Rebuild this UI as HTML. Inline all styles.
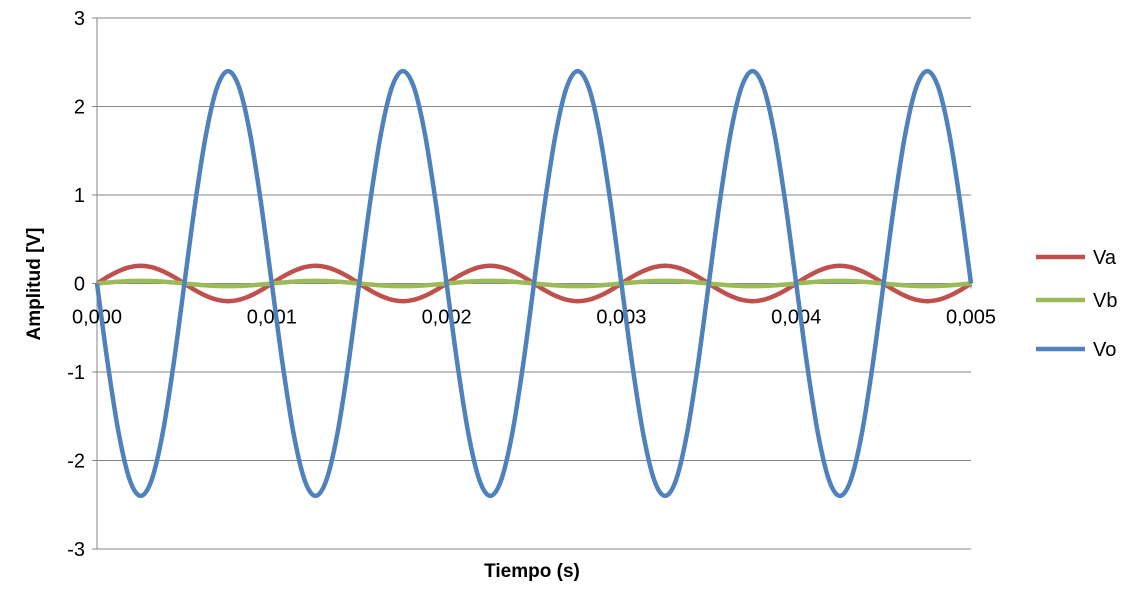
<!DOCTYPE html>
<html><head><meta charset="utf-8"><style>
body{margin:0;background:#fff;}
svg{display:block;font-family:"Liberation Sans",Calibri,sans-serif;}
</style></head><body>
<svg id="chart" width="1133" height="595"></svg>
<script>
const xTicks=[0,0.001,0.002,0.003,0.004,0.005];
const xTickLabels=["0,000","0,001","0,002","0,003","0,004","0,005"];
const yTicks=[-3,-2,-1,0,1,2,3];
const seriesNames=["Va","Vb","Vo"];
const seriesColors=["#c0504d","#9bbb59","#4f81bd"];
const times=[0,0.0000625,0.000125,0.0001875,0.00025,0.0003125,0.000375,0.0004375,0.0005,0.0005625,0.000625,0.0006875,0.00075,0.0008125,0.000875,0.0009375,
0.001,0.0010625,0.001125,0.0011875,0.00125,0.0013125,0.001375,0.0014375,0.0015,0.0015625,0.001625,0.0016875,0.00175,0.0018125,0.001875,0.0019375,
0.002,0.0020625,0.002125,0.0021875,0.00225,0.0023125,0.002375,0.0024375,0.0025,0.0025625,0.002625,0.0026875,0.00275,0.0028125,0.002875,0.0029375,
0.003,0.0030625,0.003125,0.0031875,0.00325,0.0033125,0.003375,0.0034375,0.0035,0.0035625,0.003625,0.0036875,0.00375,0.0038125,0.003875,0.0039375,
0.004,0.0040625,0.004125,0.0041875,0.00425,0.0043125,0.004375,0.0044375,0.0045,0.0045625,0.004625,0.0046875,0.00475,0.0048125,0.004875,0.0049375,0.005];
const va=[0,0.077,0.141,0.185,0.2,0.185,0.141,0.077,0,-0.077,-0.141,-0.185,-0.2,-0.185,-0.141,-0.077,
0,0.077,0.141,0.185,0.2,0.185,0.141,0.077,0,-0.077,-0.141,-0.185,-0.2,-0.185,-0.141,-0.077,
0,0.077,0.141,0.185,0.2,0.185,0.141,0.077,0,-0.077,-0.141,-0.185,-0.2,-0.185,-0.141,-0.077,
0,0.077,0.141,0.185,0.2,0.185,0.141,0.077,0,-0.077,-0.141,-0.185,-0.2,-0.185,-0.141,-0.077,
0,0.077,0.141,0.185,0.2,0.185,0.141,0.077,0,-0.077,-0.141,-0.185,-0.2,-0.185,-0.141,-0.077,0];
const vb=[0,0.011,0.021,0.028,0.03,0.028,0.021,0.011,0,-0.011,-0.021,-0.028,-0.03,-0.028,-0.021,-0.011,
0,0.011,0.021,0.028,0.03,0.028,0.021,0.011,0,-0.011,-0.021,-0.028,-0.03,-0.028,-0.021,-0.011,
0,0.011,0.021,0.028,0.03,0.028,0.021,0.011,0,-0.011,-0.021,-0.028,-0.03,-0.028,-0.021,-0.011,
0,0.011,0.021,0.028,0.03,0.028,0.021,0.011,0,-0.011,-0.021,-0.028,-0.03,-0.028,-0.021,-0.011,
0,0.011,0.021,0.028,0.03,0.028,0.021,0.011,0,-0.011,-0.021,-0.028,-0.03,-0.028,-0.021,-0.011,0];
const vo=[0,-0.92,-1.70,-2.22,-2.40,-2.22,-1.70,-0.92,0,0.92,1.70,2.22,2.40,2.22,1.70,0.92,
0,-0.92,-1.70,-2.22,-2.40,-2.22,-1.70,-0.92,0,0.92,1.70,2.22,2.40,2.22,1.70,0.92,
0,-0.92,-1.70,-2.22,-2.40,-2.22,-1.70,-0.92,0,0.92,1.70,2.22,2.40,2.22,1.70,0.92,
0,-0.92,-1.70,-2.22,-2.40,-2.22,-1.70,-0.92,0,0.92,1.70,2.22,2.40,2.22,1.70,0.92,
0,-0.92,-1.70,-2.22,-2.40,-2.22,-1.70,-0.92,0,0.92,1.70,2.22,2.40,2.22,1.70,0.92,0];

const NS="http://www.w3.org/2000/svg";
const svg=document.getElementById('chart');
const X0=97,X1=971,Y0=549,Y1=18;
const xs=t=>X0+(t-0)/(0.005)*(X1-X0);
const ys=v=>Y0-(v+3)/6*(Y0-Y1);
function mk(tag,attrs,parent){const e=document.createElementNS(NS,tag);for(const k in attrs)e.setAttribute(k,attrs[k]);(parent||svg).appendChild(e);return e;}

yTicks.forEach(v=>{
  const g=mk('line',{x1:X0,x2:X1,y1:ys(v),y2:ys(v),stroke:'#868686','stroke-width':1});
  
  
  const tk=mk('line',{x1:X0-5,x2:X0,y1:ys(v),y2:ys(v),stroke:'#868686'});
  
  
  const t=mk('text',{x:X0-12,y:ys(v)+7,'text-anchor':'end','font-size':20,fill:'#000'});
  t.textContent=String(v);
  
  
});
const ax=mk('line',{x1:X0,x2:X0,y1:Y1,y2:Y0,stroke:'#868686'});


xTicks.forEach((v,i)=>{
  const tk=mk('line',{x1:xs(v),x2:xs(v),y1:ys(0),y2:ys(0)+5,stroke:'#868686'});
  
  
  const t=mk('text',{x:xs(v),y:ys(0)+40,'text-anchor':'middle','font-size':20,fill:'#000'});
  t.textContent=xTickLabels[i];
  
  
});
function pathFor(vals){
  const p=times.map((t,i)=>[xs(t),ys(vals[i])]);
  let d='M'+p[0][0]+','+p[0][1];
  for(let i=0;i<p.length-1;i++){
    const a=p[Math.max(0,i-1)],b=p[i],c=p[i+1],e=p[Math.min(p.length-1,i+2)];
    const c1=[b[0]+(c[0]-a[0])/6,b[1]+(c[1]-a[1])/6];
    const c2=[c[0]-(e[0]-b[0])/6,c[1]-(e[1]-b[1])/6];
    d+=' C'+c1+' '+c2+' '+c;
  }
  return d;
}
[va,vb,vo].forEach((vals,i)=>{
  const p=mk('path',{d:pathFor(vals),fill:'none',stroke:seriesColors[i],'stroke-width':4.5,'stroke-linejoin':'round'});
  
  
});
const legY=[257,300,349];
seriesNames.forEach((n,i)=>{
  const l=mk('line',{x1:1036,x2:1085,y1:legY[i],y2:legY[i],stroke:seriesColors[i],'stroke-width':4.5});
  
  
  const t=mk('text',{x:1093,y:legY[i]+7,'font-size':20,fill:'#000'});
  t.textContent=n;
  
  
});
const xt=mk('text',{x:532,y:577,'text-anchor':'middle','font-size':19,'font-weight':'bold'});
xt.textContent='Tiempo  (s)';


const yt=mk('text',{x:0,y:0,'text-anchor':'middle','font-size':19,'font-weight':'bold',transform:'translate(40,284) rotate(-90)'});
yt.textContent='Amplitud [V]';


</script>
</body></html>
